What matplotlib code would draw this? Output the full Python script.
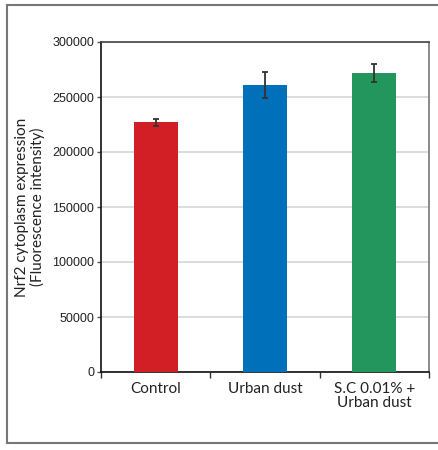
import matplotlib.pyplot as plt
from matplotlib.lines import Line2D
import numpy as np

# datos
categorias = ["Control", "Urban dust", "S.C 0.01% +\nUrban dust"]
valores = [227000, 261000, 271500]
errores = [3000, 11500, 8200]
colores = ["#D21F26", "#0070BA", "#22965C"]

fig = plt.figure(figsize=(4.38, 4.5), dpi=100)
ax = fig.add_axes([101 / 438, 1 - 372 / 450, 328 / 438, 330 / 450])

x = np.arange(len(categorias))
ax.bar(x, valores, width=0.4, color=colores, zorder=3)
ax.errorbar(x, valores, yerr=errores, fmt="none", ecolor="#333333",
            elinewidth=1.3, capsize=2, capthick=1.3, zorder=4)

ax.set_xlim(-0.5, 2.5)
ax.set_ylim(0, 300000)
ax.set_yticks(np.arange(0, 300001, 50000))
ax.yaxis.grid(True, color="#d6d6d6", linewidth=1.2, zorder=0)
ax.set_axisbelow(True)

# marcas del eje x en los limites entre categorias
ax.set_xticks([-0.5, 0.5, 1.5, 2.5])
ax.set_xticklabels([])
ax.set_xticks(x, minor=True)
ax.set_xticklabels(categorias, minor=True, fontfamily="Lato", fontsize=11,
                   color="#222222", linespacing=1.0)
ax.tick_params(axis="x", which="minor", length=0, pad=7)
ax.tick_params(axis="x", which="major", length=4, width=1, color="#333333")
ax.tick_params(axis="y", length=3, width=1, color="#555555", pad=2,
               labelsize=9, labelcolor="#222222")
for lbl in ax.get_yticklabels():
    lbl.set_fontfamily("Liberation Sans")

ax.spines["left"].set_color("#111111")
ax.spines["bottom"].set_color("#111111")
ax.spines["top"].set_color("#444444")
ax.spines["right"].set_color("#777777")
for s in ax.spines.values():
    s.set_linewidth(1.2)

fig.text(30 / 438, 1 - 207 / 450, "Nrf2 cytoplasm expression\n(Fluorescence intensity)",
         rotation=90, ha="center", va="center", fontfamily="Lato",
         fontsize=11, color="#222222", linespacing=1.15)

# marco exterior (abierto a la derecha)
marco = "#777777"
fig.add_artist(Line2D([7 / 438, 1], [1 - 4.5 / 450, 1 - 4.5 / 450], color=marco, lw=1.5))
fig.add_artist(Line2D([7 / 438, 1], [1 - 443 / 450, 1 - 443 / 450], color=marco, lw=1.5))
fig.add_artist(Line2D([7 / 438, 7 / 438], [1 - 4.5 / 450, 1 - 443 / 450], color=marco, lw=1.5))

fig.savefig("out.png", dpi=100)
